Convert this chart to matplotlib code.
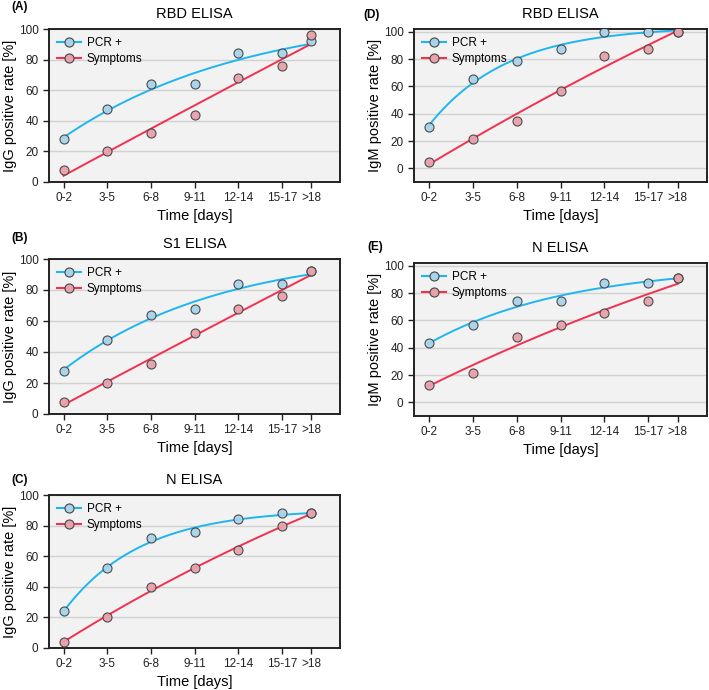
import numpy as np
import matplotlib
matplotlib.use("Agg")
import matplotlib.pyplot as plt

plt.rcParams['font.family'] = ['Liberation Sans', 'DejaVu Sans']

# time bins (midpoint in days) and labels
days = [1, 4, 7, 10, 13, 16, 18]
day_labels = ['0-2', '3-5', '6-8', '9-11', '12-14', '15-17', '>18']

# IgG, RBD ELISA
igg_rbd_pcr = [28, 48, 64, 64, 84, 84, 92]
igg_rbd_sym = [8, 20, 32, 44, 68, 76, 96]
# IgG, S1 ELISA
igg_s1_pcr = [28, 48, 64, 68, 84, 84, 92]
igg_s1_sym = [8, 20, 32, 52, 68, 76, 92]
# IgG, N ELISA
igg_n_pcr = [24, 52, 72, 76, 84, 88, 88]
igg_n_sym = [4, 20, 40, 52, 64, 80, 88]
# IgM, RBD ELISA
igm_rbd_pcr = [30.4, 65.2, 78.3, 87.0, 100, 100, 100]
igm_rbd_sym = [4.3, 21.7, 34.8, 56.5, 82.6, 87.0, 100]
# IgM, N ELISA
igm_n_pcr = [43.5, 56.5, 73.9, 73.9, 87.0, 87.0, 91.3]
igm_n_sym = [13.0, 21.7, 47.8, 56.5, 65.2, 73.9, 91.3]

PCR_LINE = '#1fb6ef'
PCR_FACE = '#a9d3ea'
SYM_LINE = '#f2304f'
SYM_FACE = '#e9a1ab'

W, H = 709, 690


def plateau_fit(x, y):
    """one-phase association y = a + b*exp(-k x), grid search over k"""
    x = np.asarray(x, float)
    y = np.asarray(y, float)
    best = None
    for k in np.linspace(0.002, 0.6, 600):
        A = np.column_stack([np.ones_like(x), np.exp(-k * x)])
        coef, *_ = np.linalg.lstsq(A, y, rcond=None)
        err = np.sum((A @ coef - y) ** 2)
        if best is None or err < best[0]:
            best = (err, k, coef)
    _, k, coef = best
    xs = np.linspace(x.min(), x.max(), 200)
    return xs, coef[0] + coef[1] * np.exp(-k * xs)


def draw_panel(ax, pcr, sym, title, letter, letter_xy, ylabel, ylim):
    ax.set_facecolor('#f2f2f2')
    ax.set_axisbelow(True)
    ax.yaxis.grid(True, color='#d2d2d2', lw=1.0)
    for vals, lc, fc, name in [(pcr, PCR_LINE, PCR_FACE, 'PCR +'),
                               (sym, SYM_LINE, SYM_FACE, 'Symptoms')]:
        xs, ys = plateau_fit(days, vals)
        ax.plot(xs, ys, color=lc, lw=1.4, zorder=2)
        ax.plot(days, vals, 'o', ms=6.5, mfc=fc, mec='#444444', mew=0.8,
                alpha=0.95, zorder=3)
        ax.plot([], [], '-o', color=lc, ms=6.5, mfc=fc, mec='#444444',
                mew=0.8, label=name)
    ax.set_xlim(0, 20)
    ax.set_ylim(*ylim)
    ax.set_xticks(days)
    ax.set_xticklabels(day_labels)
    ax.set_yticks([0, 20, 40, 60, 80, 100])
    ax.tick_params(labelsize=8.5, width=1.0, length=4, colors='#222222')
    for s in ax.spines.values():
        s.set_linewidth(1.4)
        s.set_color('#222222')
    ax.set_xlabel('Time [days]', fontsize=10.5, labelpad=3)
    ax.set_ylabel(ylabel, fontsize=10.5, labelpad=1)
    ax.set_title(title, fontsize=10.5, pad=8)
    ax.legend(loc='upper left', frameon=False, fontsize=8.5,
              handlelength=2.0, handletextpad=0.5, borderaxespad=0.3,
              labelspacing=0.3)
    fig.text(letter_xy[0] / W, 1 - letter_xy[1] / H, letter, fontsize=8.5,
             fontweight='bold', va='center', ha='left')


fig = plt.figure(figsize=(W / 100, H / 100), dpi=100)


def add_ax(x0, y0, x1, y1):
    return fig.add_axes([x0 / W, 1 - y1 / H, (x1 - x0) / W, (y1 - y0) / H])


axA = add_ax(49, 29, 340, 182)
axB = add_ax(49, 259, 340, 414)
axC = add_ax(49, 495, 340, 648)
axD = add_ax(414, 29, 707, 182)
axE = add_ax(414, 263, 707, 416)

draw_panel(axA, igg_rbd_pcr, igg_rbd_sym, 'RBD ELISA', '(A)', (11, 7), 'IgG positive rate [%]', (0, 100))
draw_panel(axB, igg_s1_pcr, igg_s1_sym, 'S1 ELISA', '(B)', (11, 238), 'IgG positive rate [%]', (0, 100))
draw_panel(axC, igg_n_pcr, igg_n_sym, 'N ELISA', '(C)', (11, 480), 'IgG positive rate [%]', (0, 100))
draw_panel(axD, igm_rbd_pcr, igm_rbd_sym, 'RBD ELISA', '(D)', (363, 15), 'IgM positive rate [%]', (-10, 102))
draw_panel(axE, igm_n_pcr, igm_n_sym, 'N ELISA', '(E)', (367, 247), 'IgM positive rate [%]', (-10, 102))

fig.savefig('out.png', dpi=100)
